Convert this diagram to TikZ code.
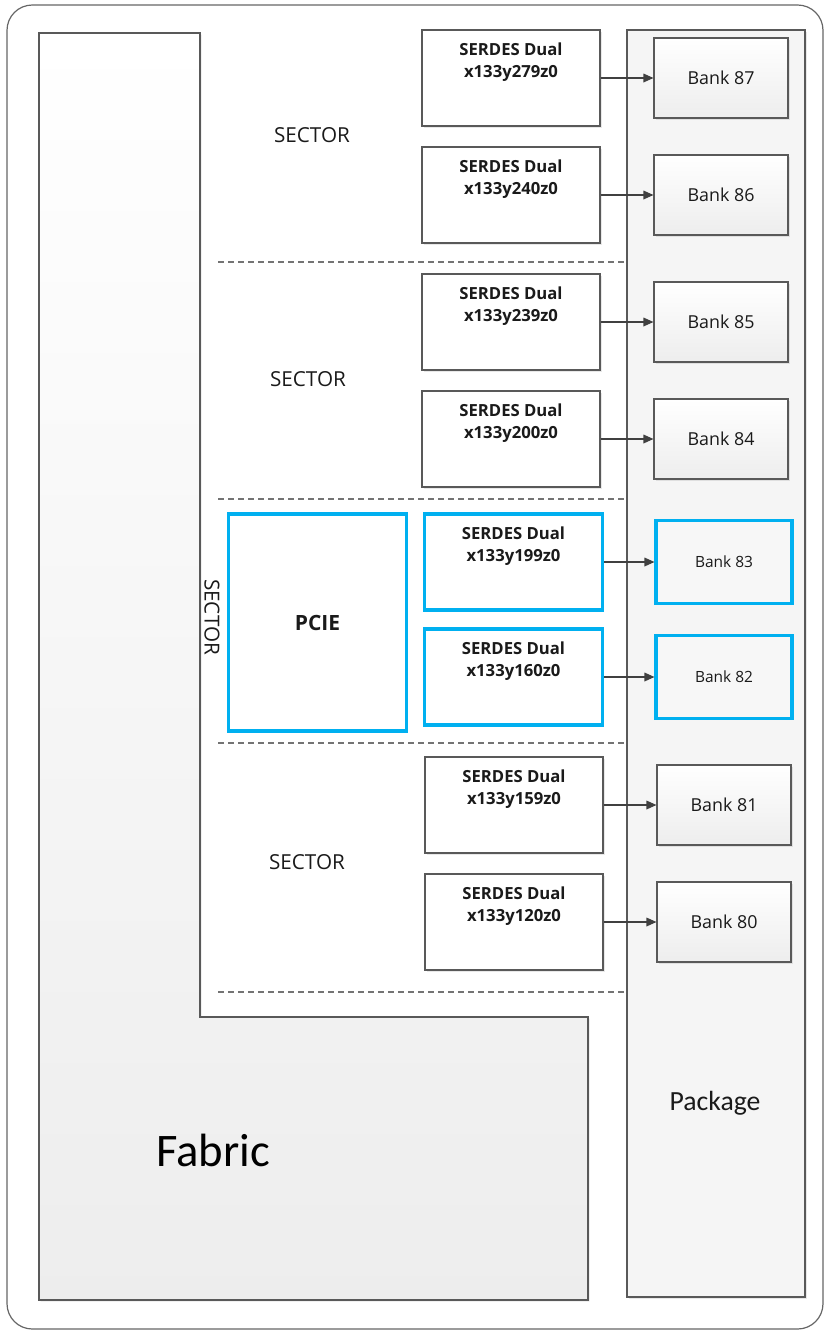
\documentclass[tikz,border=0pt]{standalone}
\usepackage{fontspec}
\setmainfont{Open Sans}
\newfontfamily\calib{Carlito}
\usetikzlibrary{arrows.meta,shadows}
\definecolor{edge}{HTML}{595959}
\definecolor{blu}{HTML}{00B0F0}
\definecolor{txt}{HTML}{1A1A1A}
\newcommand{\serdestxt}[1]{\parbox[c][72pt][t]{132pt}{\centering\vspace*{9.8pt}\fontsize{12.5}{16}\selectfont\bfseries SERDES Dual\\#1\par}}
\tikzset{
  shad/.style={drop shadow={opacity=0.18,shadow xshift=1.2pt,shadow yshift=-1.2pt}},
  serdes/.style={draw=edge,line width=0.8pt,fill=white,shad,inner sep=0pt,text=txt,
     minimum width=133.5pt,minimum height=72pt},
  serdesb/.style={serdes,draw=blu,line width=2.3pt},
  bank/.style={draw=edge,line width=0.8pt,top color=white,bottom color=black!7,shad,text=txt,
     minimum width=100.5pt,minimum height=60pt,font=\fontsize{13.4}{16}\selectfont},
  bankb/.style={bank,draw=blu,line width=2.3pt,top color=black!3,bottom color=black!3,
     minimum width=102pt,minimum height=62pt,font=\fontsize{11.6}{14}\selectfont},
  arr/.style={draw=black!75,line width=0.9pt,-{Triangle[length=7.5pt,width=6.5pt]}},
  divider/.style={draw=black!55,line width=0.8pt,dash pattern=on 4.5pt off 3pt},
  sectorlbl/.style={text=txt,font=\fontsize{15.5}{18}\selectfont}
}
\begin{document}
\begin{tikzpicture}[x=0.75pt,y=-0.75pt]
\useasboundingbox (0,0) rectangle (826,1332);
% outer frame
\draw[draw=black!60,line width=0.9pt,rounded corners=19pt] (7,5) rectangle (823,1329);
% fabric
\path[shad,draw=edge,line width=0.8pt,top color=white,bottom color=black!7]
  (39,33) -- (200,33) -- (200,1017) -- (588,1017) -- (588,1300) -- (39,1300) -- cycle;
\node[text=black,font=\calib\fontsize{35}{40}\selectfont] (fabric) at (213,1150) {Fabric};
% package
\path[shad,draw=edge,line width=0.8pt,fill=black!4] (627,30) rectangle (805,1297);
\node[text=txt,font=\calib\fontsize{20.8}{24}\selectfont] (pkg) at (715,1103) {Package};
% dividers
\coordinate (d1a) at (218,262); \coordinate (d1b) at (625,262);
\coordinate (d2a) at (218,499); \coordinate (d2b) at (625,499);
\coordinate (d3a) at (218,743); \coordinate (d3b) at (625,743);
\coordinate (d4a) at (218,992); \coordinate (d4b) at (625,992);
\draw[divider] (d1a) -- (d1b);
\draw[divider] (d2a) -- (d2b);
\draw[divider] (d3a) -- (d3b);
\draw[divider] (d4a) -- (d4b);
% sector labels
\node[sectorlbl] (sec1) at (312,135) {SECTOR};
\node[sectorlbl] (sec2) at (308,379) {SECTOR};
\node[sectorlbl,rotate=-90] (sec3) at (212,617) {SECTOR};
\node[sectorlbl] (sec4) at (307,862) {SECTOR};
% PCIE
\node[draw=blu,line width=2.3pt,fill=white,shad,minimum width=134pt,minimum height=162.75pt,
  text=txt,font=\fontsize{15.75}{18}\selectfont\bfseries] (pcie) at (317.5,622.5) {PCIE};
% serdes
\node[serdes] (s1) at (511,78) {\serdestxt{x133y279z0}};
\node[serdes] (s2) at (511,195) {\serdestxt{x133y240z0}};
\node[serdes] (s3) at (511,322) {\serdestxt{x133y239z0}};
\node[serdes] (s4) at (511,439) {\serdestxt{x133y200z0}};
\node[serdesb,minimum width=134pt,minimum height=71pt] (s5) at (513.5,562) {\serdestxt{x133y199z0}};
\node[serdesb,minimum width=134pt,minimum height=71pt] (s6) at (513.5,677) {\serdestxt{x133y160z0}};
\node[serdes] (s7) at (514,805) {\serdestxt{x133y159z0}};
\node[serdes] (s8) at (514,922) {\serdestxt{x133y120z0}};
% banks
\node[bank] (b1) at (721,78) {Bank 87};
\node[bank] (b2) at (721,195) {Bank 86};
\node[bank] (b3) at (721,322) {Bank 85};
\node[bank] (b4) at (721,439) {Bank 84};
\node[bankb] (b5) at (724,562) {Bank 83};
\node[bankb] (b6) at (724,677) {Bank 82};
\node[bank] (b7) at (724,805) {Bank 81};
\node[bank] (b8) at (724,922) {Bank 80};
% arrows
\draw[arr] (s1.east) -- (b1.west);
\draw[arr] (s2.east) -- (b2.west);
\draw[arr] (s3.east) -- (b3.west);
\draw[arr] (s4.east) -- (b4.west);
\draw[arr] (s5.east) -- (b5.west);
\draw[arr] (s6.east) -- (b6.west);
\draw[arr] (s7.east) -- (b7.west);
\draw[arr] (s8.east) -- (b8.west);
\end{tikzpicture}
\end{document}
